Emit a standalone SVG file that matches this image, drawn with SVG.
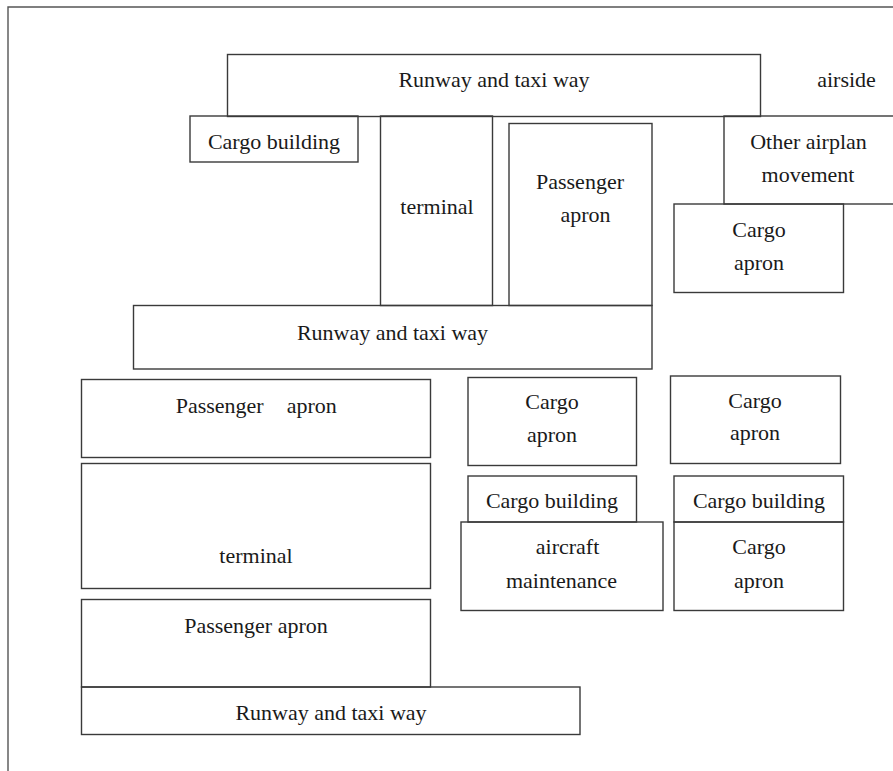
<svg xmlns="http://www.w3.org/2000/svg" width="893" height="771" viewBox="0 0 893 771">
<style>
.b{fill:none;stroke:#3a3a3a;stroke-width:1.4}
.t{font-family:"Liberation Serif","Times New Roman",serif;font-size:22px;fill:#1a1a1a;text-anchor:middle}
.s{text-anchor:start}
</style>
<rect width="893" height="771" fill="#ffffff"/>
<path d="M893,7 H8 V771" fill="none" stroke="#555" stroke-width="1.4"/>
<g id="runway-top"><rect class="b" x="227.5" y="54.5" width="533" height="62"/><text class="t" x="494" y="87">Runway and taxi way</text></g>
<g id="airside"><text class="t" x="846.5" y="87">airside</text></g>
<g id="cargo-building-top"><rect class="b" x="190" y="116" width="168" height="46"/><text class="t" x="274" y="148.5">Cargo building</text></g>
<g id="terminal-top"><rect class="b" x="380.5" y="116" width="112" height="189.5"/><text class="t" x="437" y="213.5">terminal</text></g>
<g id="passenger-apron-top"><rect class="b" x="509" y="123.5" width="143" height="182"/><text class="t" x="580" y="188.5">Passenger</text><text class="t" x="585.5" y="221.5">apron</text></g>
<g id="other-airplan"><rect class="b" x="724" y="116" width="170" height="88"/><text class="t" x="808.5" y="148.5">Other airplan</text><text class="t" x="808" y="181.5">movement</text></g>
<g id="cargo-apron-ur"><rect class="b" x="674" y="204" width="169.5" height="88.5"/><text class="t" x="759" y="236.5">Cargo</text><text class="t" x="759" y="270">apron</text></g>
<g id="runway-mid"><rect class="b" x="133.5" y="305.5" width="518.5" height="63.5"/><text class="t" x="392.5" y="339.5">Runway and taxi way</text></g>
<g id="passenger-apron-left"><rect class="b" x="81.5" y="379.5" width="349" height="78"/><text class="t s" y="412.5"><tspan x="175.7">Passenger</tspan><tspan x="286.7">apron</tspan></text></g>
<g id="terminal-left"><rect class="b" x="81.5" y="463.5" width="349" height="125"/><text class="t" x="256" y="562.5">terminal</text></g>
<g id="passenger-apron-low"><rect class="b" x="81.5" y="599.5" width="349" height="87.5"/><text class="t" x="256" y="632.5">Passenger apron</text></g>
<g id="runway-low"><rect class="b" x="81.5" y="687" width="498.5" height="47.5"/><text class="t" x="331" y="720">Runway and taxi way</text></g>
<g id="cargo-apron-ml"><rect class="b" x="468" y="377.5" width="168.5" height="88"/><text class="t" x="552" y="409">Cargo</text><text class="t" x="552" y="441.5">apron</text></g>
<g id="cargo-apron-mr"><rect class="b" x="670.5" y="376" width="170" height="87.5"/><text class="t" x="755" y="407.5">Cargo</text><text class="t" x="755" y="440">apron</text></g>
<g id="cargo-building-ml"><rect class="b" x="468" y="476" width="168.5" height="46"/><text class="t" x="552" y="507.5">Cargo building</text></g>
<g id="aircraft-maintenance"><rect class="b" x="461" y="522" width="202" height="88.5"/><text class="t" x="567.5" y="553.5">aircraft</text><text class="t" x="561.5" y="587.5">maintenance</text></g>
<g id="cargo-building-mr"><rect class="b" x="674" y="476" width="169.5" height="46"/><text class="t" x="759" y="507.5">Cargo building</text></g>
<g id="cargo-apron-lr"><rect class="b" x="674" y="522" width="169.5" height="88.5"/><text class="t" x="759" y="553.5">Cargo</text><text class="t" x="759" y="587.5">apron</text></g>
<g id="connectors"></g>
</svg>
